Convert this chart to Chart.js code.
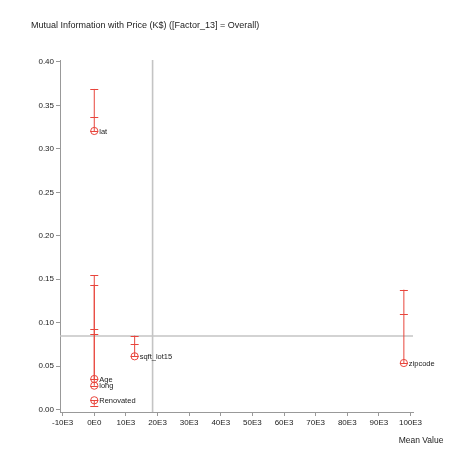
<!DOCTYPE html>
<html><head><meta charset="utf-8">
<script src="https://cdn.jsdelivr.net/npm/chart.js@4/dist/chart.umd.min.js"></script>
<style>html,body{margin:0;padding:0;background:#fff;}canvas{display:block;}</style>
</head><body>
<canvas id="c" width="473" height="472"></canvas>
<script>
const titleText = 'Mutual Information with Price (K$) ([Factor_13] = Overall)';
const xAxisTitle = 'Mean Value';
const categories = ['lat', 'Age', 'long', 'Renovated', 'sqft_lot15', 'zipcode'];
const meanValues = [0, 0, 0, 0, 12768, 97900];
const mutualInfo = [0.3206, 0.0351, 0.0274, 0.0106, 0.0612, 0.0535];
const capValues = [
  [0.337, 0.369],
  [0.0923, 0.1548],
  [0.0866, 0.1437],
  [0.0044],
  [0.075, 0.085],
  [0.1096, 0.1379]
];
const refX = 18440;
const refY = 0.0846;
const xTickValues = [-10000, 0, 10000, 20000, 30000, 40000, 50000, 60000, 70000, 80000, 90000, 100000];
const xTickLabels = ['-10E3', '0E0', '10E3', '20E3', '30E3', '40E3', '50E3', '60E3', '70E3', '80E3', '90E3', '100E3'];
const yTickValues = [0, 0.05, 0.10, 0.15, 0.20, 0.25, 0.30, 0.35, 0.40];
const yTickLabels = ['0.00', '0.05', '0.10', '0.15', '0.20', '0.25', '0.30', '0.35', '0.40'];

const RED = '#e8453c';
const FONT = '"Liberation Sans", Arial, sans-serif';

const overlay = {
  id: 'overlay',
  beforeDatasetsDraw(chart) {
    const ctx = chart.ctx, xs = chart.scales.x, ys = chart.scales.y, a = chart.chartArea;
    ctx.save();
    // reference lines
    ctx.strokeStyle = '#c4c4c4';
    ctx.lineWidth = 1.6;
    const rx = xs.getPixelForValue(refX);
    ctx.beginPath(); ctx.moveTo(rx, a.top); ctx.lineTo(rx, a.bottom); ctx.stroke();
    const ry = ys.getPixelForValue(refY);
    ctx.beginPath(); ctx.moveTo(a.left, ry); ctx.lineTo(a.right, ry); ctx.stroke();
    // error bars
    ctx.strokeStyle = RED;
    ctx.lineWidth = 1;
    categories.forEach((c, i) => {
      const px = xs.getPixelForValue(meanValues[i]);
      const vals = capValues[i].concat([mutualInfo[i]]);
      const lo = Math.min(...vals), hi = Math.max(...vals);
      ctx.beginPath();
      ctx.moveTo(px, ys.getPixelForValue(lo));
      ctx.lineTo(px, ys.getPixelForValue(hi));
      ctx.stroke();
      capValues[i].forEach(v => {
        const py = Math.round(ys.getPixelForValue(v)) + 0.5;
        ctx.beginPath(); ctx.moveTo(px - 4, py); ctx.lineTo(px + 4, py); ctx.stroke();
      });
      const cy = Math.round(ys.getPixelForValue(mutualInfo[i])) + 0.5;
      ctx.beginPath(); ctx.moveTo(px - 4, cy); ctx.lineTo(px + 4, cy); ctx.stroke();
    });
    ctx.restore();
  },
  afterDraw(chart) {
    const ctx = chart.ctx, xs = chart.scales.x, ys = chart.scales.y;
    ctx.save();
    ctx.fillStyle = '#222';
    ctx.font = '7.5px ' + FONT;
    ctx.textAlign = 'left';
    ctx.textBaseline = 'middle';
    categories.forEach((c, i) => {
      ctx.fillText(c, xs.getPixelForValue(meanValues[i]) + 5, ys.getPixelForValue(mutualInfo[i]) + 0.5);
    });
    ctx.fillStyle = '#222';
    ctx.font = '9px ' + FONT;
    ctx.textBaseline = 'middle';
    ctx.fillText(titleText, 31, 26);
    ctx.font = '8.5px ' + FONT;
    ctx.textAlign = 'center';
    ctx.fillText(xAxisTitle, 421, 441);
    ctx.restore();
  }
};

new Chart(document.getElementById('c'), {
  type: 'scatter',
  data: {
    datasets: [{
      data: categories.map((c, i) => ({ x: meanValues[i], y: mutualInfo[i] })),
      pointStyle: 'circle',
      pointRadius: 3.6,
      pointHoverRadius: 3.6,
      borderColor: RED,
      backgroundColor: 'rgba(0,0,0,0)',
      borderWidth: 1
    }]
  },
  options: {
    responsive: false,
    animation: false,
    events: [],
    layout: { padding: { left: 15, right: 60, top: 60, bottom: 40 } },
    plugins: { legend: { display: false }, tooltip: { enabled: false }, title: { display: false } },
    scales: {
      x: {
        type: 'linear', min: -10837, max: 100790,
        afterBuildTicks(s) { s.ticks = xTickValues.map(v => ({ value: v })); },
        afterFit(s) { s.height = 20; },
        ticks: {
          autoSkip: false, maxRotation: 0, padding: 2, color: '#222',
          font: { family: FONT, size: 8 },
          callback(v) { const k = xTickValues.indexOf(v); return k >= 0 ? xTickLabels[k] : ''; }
        },
        grid: { drawOnChartArea: false, drawTicks: true, tickLength: 4, color: '#999' },
        border: { display: true, color: '#999', width: 1 }
      },
      y: {
        type: 'linear', min: -0.0029, max: 0.4023,
        afterBuildTicks(s) { s.ticks = yTickValues.map(v => ({ value: v })); },
        afterFit(s) { s.width = 45; },
        ticks: {
          autoSkip: false, padding: 2, color: '#222',
          font: { family: FONT, size: 8 },
          callback(v) { const k = yTickValues.findIndex(t => Math.abs(t - v) < 1e-9); return k >= 0 ? yTickLabels[k] : ''; }
        },
        grid: { drawOnChartArea: false, drawTicks: true, tickLength: 4, color: '#999' },
        border: { display: true, color: '#999', width: 1 }
      }
    }
  },
  plugins: [overlay]
});
</script>
</body></html>
